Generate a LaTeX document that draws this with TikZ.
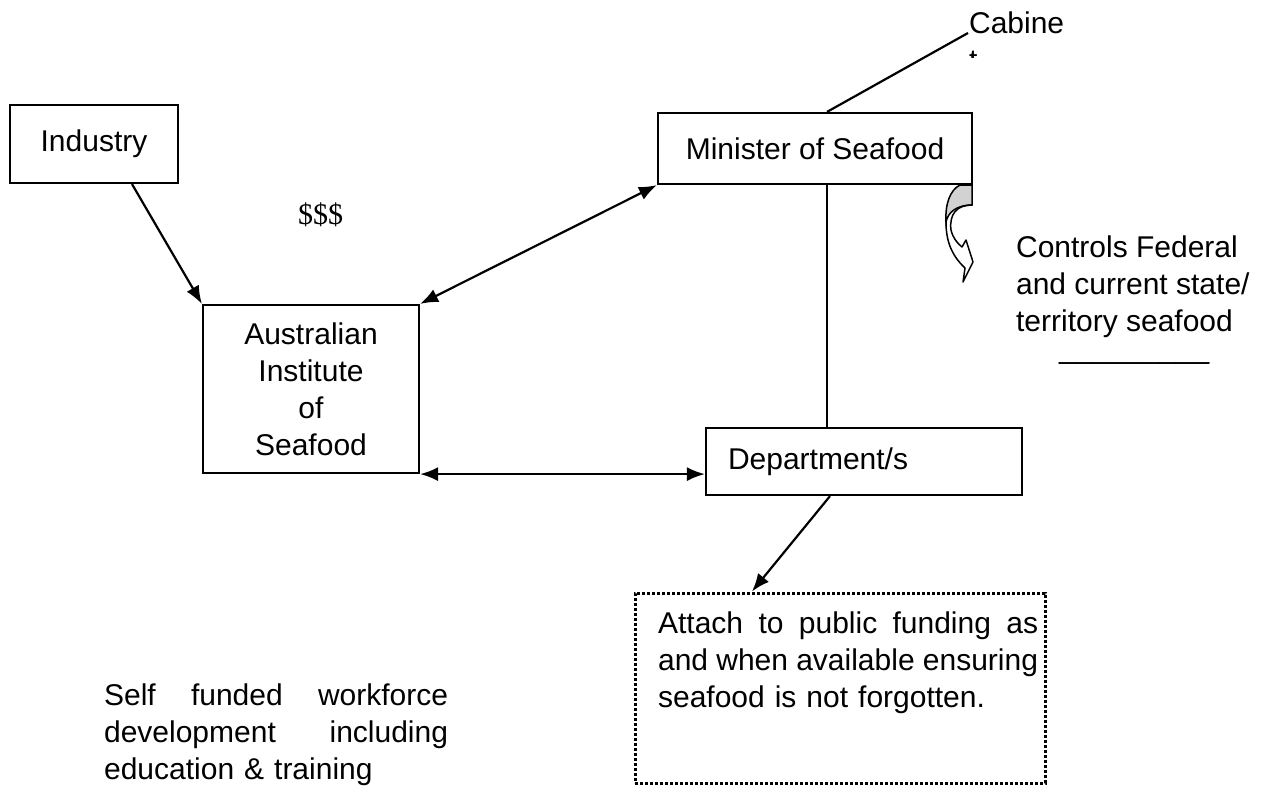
\documentclass[tikz,border=0pt]{standalone}
\usepackage{fontspec}
\setmainfont{Liberation Sans}
\newfontfamily\dollarfont{Liberation Serif}
\usetikzlibrary{arrows.meta,calc}
\newcommand{\diagfont}{\fontsize{30pt}{37pt}\selectfont}

\begin{document}
\begin{tikzpicture}[x=1pt,y=-1pt,line width=2.2pt,
  box/.style={draw,line width=2.2pt,inner sep=0pt,font=\diagfont},
  txt/.style={inner sep=0pt,font=\diagfont},
  arr/.style={-{Latex[length=18pt,width=14pt]}},
  darr/.style={{Latex[length=18pt,width=14pt]}-{Latex[length=18pt,width=14pt]}}]
  \useasboundingbox (0,0) rectangle (1270,787);
  % Boxes
  \node[box,minimum width=168pt,minimum height=78pt] (industry) at (94,144) {Industry};
  \node[box,minimum width=216pt,minimum height=168pt,align=center] (institute) at (311,389)
    {Australian\\Institute\\of\\Seafood};
  \node[box,minimum width=314pt,minimum height=71pt] (minister) at (815,148.5) {Minister of Seafood};
  \node[box,minimum width=316pt,minimum height=67pt,text width=272pt,inner xsep=22pt,align=left]
    (dept) at (864,461.5) {Department/s};
  % Dotted note box
  \node[draw,line width=3pt,dash pattern=on 3pt off 2pt,minimum width=410pt,minimum height=190pt,
    inner sep=0pt] (note) at (840,688) {};
  \node[txt,anchor=north west,text width=380pt,align=left] (notetext) at (657,611)
    {\makebox[\hsize]{Attach\hfill to\hfill public\hfill funding\hfill as}\\
     \makebox[\hsize]{and\hfill when\hfill available\hfill ensuring}\\
     seafood is not forgotten.};
  % Cabinet label, cut off by its frame
  \node[txt,anchor=base west] (cab) at (968,33) {Cabine};
  \begin{scope}
    \clip (960,40) rectangle (990,57);
    \node[txt,anchor=base west] (cabt) at (968,70) {t};
  \end{scope}
  % Connectors
  \coordinate (spine) at (827,0);
  \draw (minister.north -| spine) -- (cab.base west);
  \draw (minister.south -| spine) -- (dept.north -| spine);
  \draw[arr] ($(industry.south)+(38,0)$) -- (institute.north west);
  \draw[darr] (institute.north east) -- (minister.south west);
  \draw[darr] (institute.south east) -- (institute.south east -| dept.west);
  \draw[arr] ($(dept.south)+(-34,0)$) -- ($(note.north)+(-88,0)$);
  % Curved arrow off the minister box
  \draw[line width=1.5pt,fill=gray!35] (960,185) -- (972,185) -- (972,205)
    .. controls (957,205) and (948,212) .. (946,222)
    .. controls (945,204) and (950,190) .. (960,185) -- cycle;
  \draw[line width=1.5pt,line join=round] (972,205) .. controls (957,205) and (949,214) .. (951,230)
    .. controls (953,238) and (957,243) .. (962,247) -- (966,240) -- (973,262) -- (963,282) -- (965,268)
    .. controls (951,255) and (946,240) .. (946,222);
  % Free text
  \node[inner sep=0pt,font=\dollarfont\fontsize{30pt}{37pt}\selectfont,anchor=base west] (cash) at (297,224) {\$\$\$};
  \node[txt,anchor=north west,align=left] (controls) at (1015,235)
    {Controls Federal\\and current state/\\territory seafood};
  \node[txt,anchor=base west] (rule) at (1058,358) {\_\_\_\_\_\_\_\_\_};
  \node[txt,anchor=north west,text width=344pt,align=left] (selffund) at (103,683)
    {\makebox[\hsize]{Self\hfill funded\hfill workforce}\\
     \makebox[\hsize]{development\hfill including}\\
     education \& training};
\end{tikzpicture}
\end{document}
